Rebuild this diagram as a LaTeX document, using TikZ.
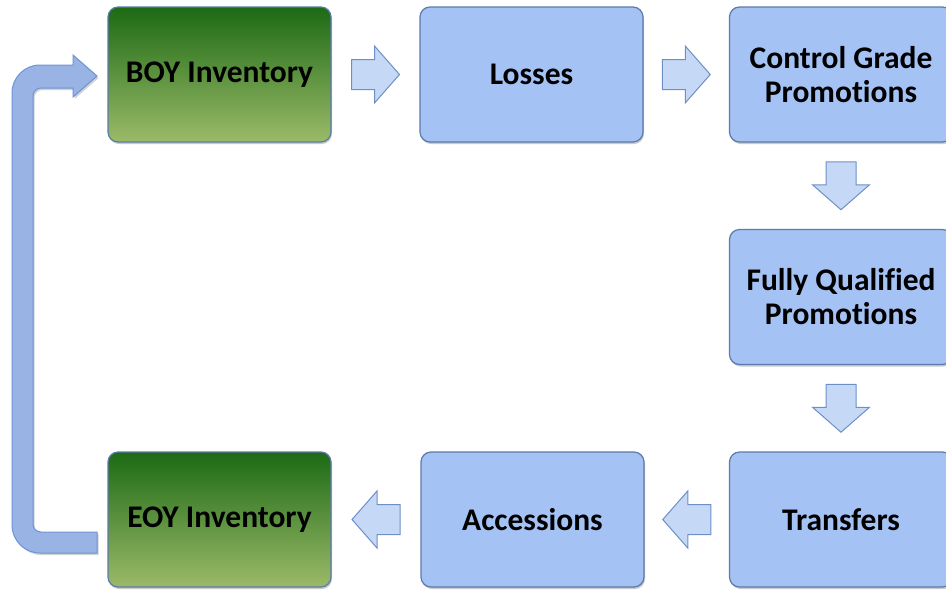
\documentclass[tikz,border=0pt]{standalone}
\usepackage{fontspec}
\setmainfont{Carlito}[Ligatures=NoCommon]
\usetikzlibrary{calc,shadows}

\definecolor{boxblue}{HTML}{A4C2F4}
\definecolor{boxedge}{HTML}{5B7BAA}
\definecolor{greentop}{HTML}{1D6A15}
\definecolor{greenbot}{HTML}{9BBA68}
\definecolor{arrowfill}{HTML}{C5D8F6}
\definecolor{arrowedge}{HTML}{6E8FC6}
\definecolor{loopfill}{HTML}{98B3E4}
\definecolor{loopedge}{HTML}{6E93D6}

\tikzset{
  x=1pt, y=1pt,
  stagebox/.style={draw=boxedge, line width=1.2pt, rounded corners=10pt,
    minimum width=223pt, minimum height=135pt, align=center,
    font=\fontsize{31.5}{34}\selectfont\bfseries,
    drop shadow={shadow xshift=1pt, shadow yshift=-2pt, opacity=0.35, fill=black!60}},
  bluebox/.style={stagebox, fill=boxblue},
  greenbox/.style={stagebox, top color=greentop, bottom color=greenbot},
  blockarrow/.pic={
    \draw[draw=arrowedge, fill=arrowfill, line width=1pt, line join=miter]
      (-24,-15) -- (-1,-15) -- (-1,-28.5) -- (24,0) -- (-1,28.5) -- (-1,15)
      -- (-24,15) -- cycle;
  }
}

\begin{document}
\begin{tikzpicture}
  \useasboundingbox (0,0) rectangle (946,-590);

  % stages of the cycle
  \node[greenbox] (boy)  at (219.5,-74.5) {BOY Inventory};
  \node[bluebox]  (loss) at (531.5,-74.5) {Losses};
  \node[bluebox]  (cgp)  at (841,-74.5)   {Control Grade\\Promotions};
  \node[bluebox]  (fqp)  at (841,-297)    {Fully Qualified\\Promotions};
  \node[bluebox]  (trn)  at (841,-519.5)  {Transfers};
  \node[bluebox]  (acc)  at (532.5,-519.5){Accessions};
  \node[greenbox] (eoy)  at (219.5,-519.5){EOY Inventory};

  % block arrows between consecutive stages
  \pic at ($(boy.east)!0.5!(loss.west)$) {blockarrow};
  \pic at ($(loss.east)!0.5!(cgp.west)$) {blockarrow};
  \pic[rotate=-90] at ($(cgp.south)!0.5!(fqp.north)$) {blockarrow};
  \pic[rotate=-90] at ($(fqp.south)!0.5!(trn.north)$) {blockarrow};
  \pic[rotate=180] at ($(trn.west)!0.5!(acc.east)$) {blockarrow};
  \pic[rotate=180] at ($(acc.west)!0.5!(eoy.east)$) {blockarrow};

  % return loop from EOY back to BOY
  \draw[draw=loopedge, fill=loopfill, line width=1pt, line join=miter,
        drop shadow={shadow xshift=1.5pt, shadow yshift=-2pt, opacity=0.3, fill=black!60}]
    (97,-553) -- (40,-553) arc[start angle=270, end angle=180, radius=28]
    -- (12,-93) arc[start angle=180, end angle=90, radius=28]
    -- (73,-65) -- (73,-55) -- (97,-76) -- (73,-97) -- (73,-88)
    -- (41,-88) arc[start angle=90, end angle=180, radius=8]
    -- (33,-524) arc[start angle=180, end angle=270, radius=8]
    -- (97,-532) -- cycle;
\end{tikzpicture}
\end{document}
